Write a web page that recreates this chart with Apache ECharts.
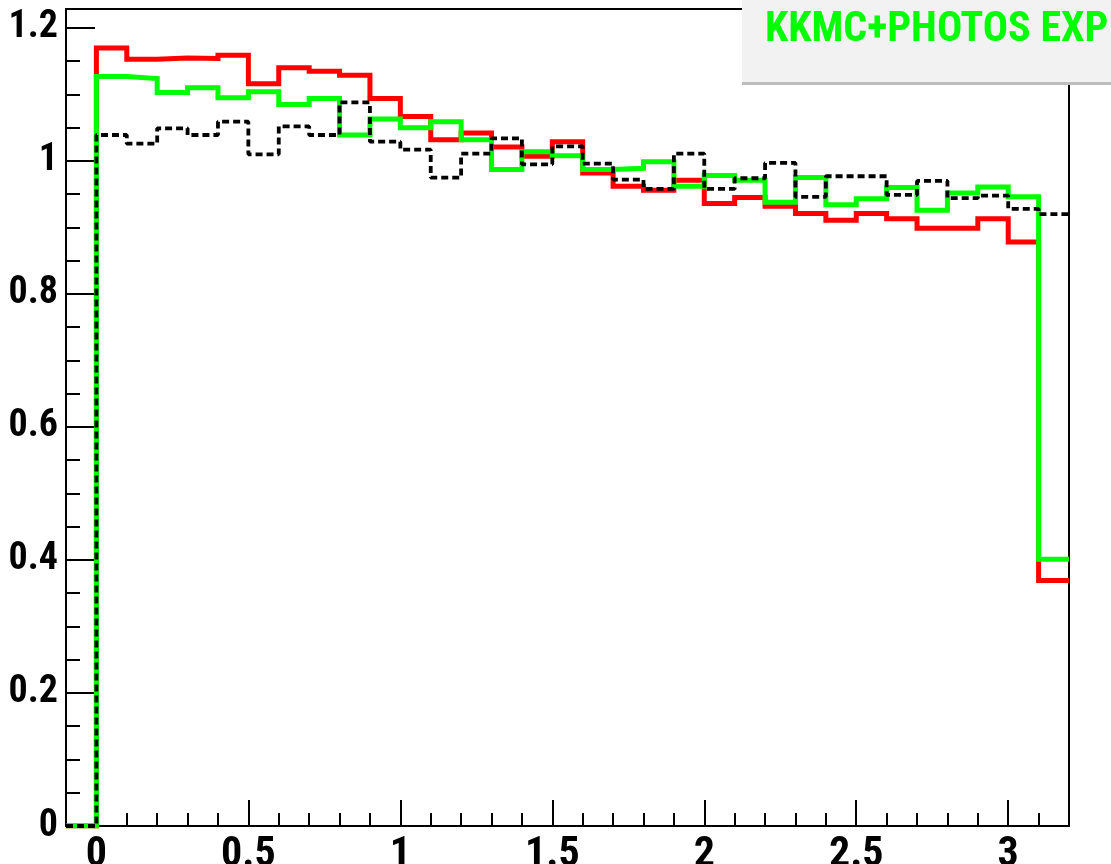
<!DOCTYPE html>
<html>
<head>
<meta charset="utf-8">
<script src="https://cdn.jsdelivr.net/npm/echarts@6/dist/echarts.min.js"></script>
<style>
  html, body { margin: 0; padding: 0; background: #fff; }
  #chart { width: 1111px; height: 864px; }
</style>
</head>
<body>
<div id="chart"></div>
<script>
// Histogram bin edges (34 edges -> 33 bins)
const binEdges = [-0.1, 0.0, 0.1, 0.2, 0.3, 0.4, 0.5, 0.6, 0.7, 0.8, 0.9, 1.0, 1.1, 1.2, 1.3, 1.4, 1.5, 1.6,
  1.7, 1.8, 1.9, 2.0, 2.1, 2.2, 2.3, 2.4, 2.5, 2.6, 2.7, 2.8, 2.9, 3.0, 3.1, 3.2];

const redValues = [0, 1.170, 1.153, 1.155, 1.154, 1.159, 1.116, 1.140, 1.135, 1.129, 1.094, 1.067, 1.032,
  1.042, 1.021, 1.007, 1.029, 0.982, 0.962, 0.956, 0.971, 0.936, 0.945, 0.932, 0.921, 0.911, 0.921,
  0.913, 0.899, 0.899, 0.913, 0.878, 0.369];

const greenValues = [0, 1.127, 1.124, 1.103, 1.110, 1.095, 1.104, 1.085, 1.094, 1.039, 1.063, 1.050, 1.059,
  1.032, 0.987, 1.014, 1.008, 0.987, 0.989, 0.999, 0.962, 0.978, 0.971, 0.938, 0.975, 0.934, 0.943,
  0.960, 0.926, 0.952, 0.961, 0.946, 0.401];

const blackValues = [0, 1.039, 1.026, 1.049, 1.039, 1.059, 1.010, 1.052, 1.039, 1.088, 1.029, 1.017, 0.975,
  1.011, 1.034, 0.995, 1.022, 0.996, 0.972, 0.958, 1.011, 0.958, 0.974, 0.997, 0.946, 0.977, 0.977,
  0.949, 0.970, 0.944, 0.948, 0.928, 0.920];

const xMajorTicks = [0, 0.5, 1, 1.5, 2, 2.5, 3];
const xMinorTicks = [0.1, 0.2, 0.3, 0.4, 0.6, 0.7, 0.8, 0.9, 1.1, 1.2, 1.3, 1.4, 1.6, 1.7, 1.8, 1.9,
  2.1, 2.2, 2.3, 2.4, 2.6, 2.7, 2.8, 2.9, 3.1];
const yMajorTicks = [0, 0.2, 0.4, 0.6, 0.8, 1, 1.2];
const yMinorTicks = [0.05, 0.1, 0.15, 0.25, 0.3, 0.35, 0.45, 0.5, 0.55, 0.65, 0.7, 0.75, 0.85, 0.9, 0.95,
  1.05, 1.1, 1.15];

const legendText = 'KKMC+PHOTOS EXP';

const X_MIN = -0.1, X_MAX = 3.2, Y_MIN = 0, Y_MAX = 1.2285;
const FONT = '"Roboto Condensed", "Liberation Sans", Arial, sans-serif';

function histData(values) {
  return binEdges.map((e, i) => [e, values[Math.min(i, values.length - 1)]]);
}

const chart = echarts.init(document.getElementById('chart'), null, { renderer: 'canvas' });

const baseAxisX = {
  type: 'value', min: X_MIN, max: X_MAX, gridIndex: 0, position: 'bottom', offset: 0,
  splitLine: { show: false }, minorTick: { show: false }
};
const baseAxisY = {
  type: 'value', min: Y_MIN, max: Y_MAX, gridIndex: 0, position: 'left', offset: 0,
  splitLine: { show: false }, minorTick: { show: false }
};

const option = {
  animation: false,
  backgroundColor: '#ffffff',
  grid: {
    left: 66, top: 9, right: 42, bottom: 38,
    containLabel: false, outerBoundsMode: 'none',
    show: true, borderColor: '#000', borderWidth: 2, backgroundColor: 'transparent'
  },
  xAxis: [
    Object.assign({}, baseAxisX, {
      axisLine: { show: true, onZero: false, lineStyle: { color: '#000', width: 2 } },
      axisTick: { show: true, inside: true, length: 26, customValues: xMajorTicks, lineStyle: { color: '#000', width: 2 } },
      axisLabel: {
        show: true, customValues: xMajorTicks, margin: 8, color: '#000',
        fontFamily: FONT, fontWeight: 'bold', fontSize: 42,
        formatter: v => String(v)
      }
    }),
    Object.assign({}, baseAxisX, {
      axisLine: { show: false, onZero: false },
      axisTick: { show: true, inside: true, length: 13, customValues: xMinorTicks, lineStyle: { color: '#000', width: 2 } },
      axisLabel: { show: false }
    })
  ],
  yAxis: [
    Object.assign({}, baseAxisY, {
      axisLine: { show: true, onZero: false, lineStyle: { color: '#000', width: 2 } },
      axisTick: { show: true, inside: true, length: 29, customValues: yMajorTicks, lineStyle: { color: '#000', width: 2 } },
      axisLabel: {
        show: true, customValues: yMajorTicks, margin: 8, color: '#000',
        fontFamily: FONT, fontWeight: 'bold', fontSize: 38,
        formatter: v => String(v)
      }
    }),
    Object.assign({}, baseAxisY, {
      axisLine: { show: false, onZero: false },
      axisTick: { show: true, inside: true, length: 14, customValues: yMinorTicks, lineStyle: { color: '#000', width: 2 } },
      axisLabel: { show: false }
    })
  ],
  series: [
    {
      name: 'red', type: 'line', step: 'end', xAxisIndex: 0, yAxisIndex: 0,
      data: histData(redValues), showSymbol: false, symbol: 'none', clip: true,
      lineStyle: { color: '#ff0000', width: 5, join: 'miter', cap: 'butt' }, z: 3
    },
    {
      name: 'green', type: 'line', step: 'end', xAxisIndex: 0, yAxisIndex: 0,
      data: histData(greenValues), showSymbol: false, symbol: 'none', clip: true,
      lineStyle: { color: '#00ff00', width: 5, join: 'miter', cap: 'butt' }, z: 4
    },
    {
      name: 'black', type: 'line', step: 'end', xAxisIndex: 0, yAxisIndex: 0,
      data: histData(blackValues), showSymbol: false, symbol: 'none', clip: true,
      lineStyle: { color: '#000000', width: 3.8, type: [7, 4], cap: 'butt' }, z: 5
    }
  ],
  graphic: [
    {
      type: 'rect', z: 100, silent: true,
      shape: { x: 742, y: 82, width: 369, height: 3 },
      style: { fill: '#bdbdbd' }
    },
    {
      type: 'rect', z: 101, silent: true,
      shape: { x: 742, y: -2, width: 371, height: 84 },
      style: { fill: '#f2f2f2' }
    },
    {
      type: 'text', z: 102, silent: true,
      style: {
        x: 765, y: 30, text: legendText, fill: '#00ff00',
        font: 'bold 42px ' + FONT, verticalAlign: 'middle', align: 'left'
      }
    }
  ]
};

chart.setOption(option);
</script>
</body>
</html>
